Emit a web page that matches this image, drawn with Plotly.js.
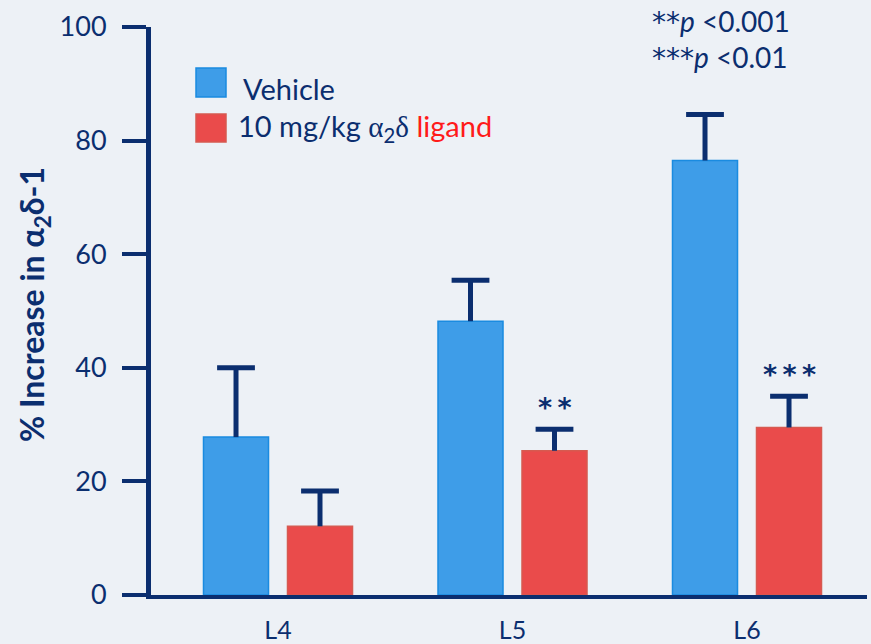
<!DOCTYPE html>
<html>
<head>
<meta charset="utf-8">
<script src="https://cdn.plot.ly/plotly-3.0.1.min.js"></script>
<style>
  html, body { margin: 0; padding: 0; background: #edf1f6; }
  #chart { width: 871px; height: 644px; }
</style>
</head>
<body>
<div id="chart"></div>
<script>
// ---- data ----
const categories = ['L4', 'L5', 'L6'];
const vehicleValues = [27.8, 48.2, 76.5];
const vehicleErrors = [12.2, 7.2, 8.1];
const ligandValues = [12.1, 25.4, 29.5];
const ligandErrors = [6.2, 3.8, 5.5];
const ligandStars = ['', '*\u2009*', '*\u2009*\u2009*'];
const yTicks = [0, 20, 40, 60, 80, 100];
const yTitle = '<b>% Increase in α<sub>2</sub>δ-1</b>';
const legendLabels = [
  'Vehicle',
  '10 mg/kg <span style="font-family:\'Liberation Serif\', serif">α</span><sub>2</sub><span style="font-family:\'Liberation Serif\', serif">δ</span> <span style="color:#ff1a1a">ligand</span>'
];
const STAR_SPAN = s => '<span style="font-family:\'DejaVu Sans\', sans-serif">' + s + '</span>';
const pNotes = [STAR_SPAN('**') + '<i>p</i> <0.001', STAR_SPAN('***') + '<i>p</i> <0.01'];

// ---- style ----
const NAVY = '#0b2e6f';
const BLUE = '#3e9de8';
const BLUE_EDGE = '#1a8be0';
const RED = '#ea4b4b';
const RED_EDGE = '#d65a50';
const FONT = 'Lato, "Open Sans", sans-serif';
const W = 871, H = 644;
const M = { l: 151, r: 4, t: 27, b: 49 };
const plotW = W - M.l - M.r, plotH = H - M.t - M.b;
const px2x = px => (px - M.l) / plotW;
const py2y = py => (H - M.b - py) / plotH;

const BARGAP = 0.2836;
const slotHalf = (1 - BARGAP) / 4;   // half of one bar slot, in category units
const idx = categories.map((c, i) => i);
const zeros = idx.map(() => 0);

const traces = [
  {
    type: 'bar', name: 'Vehicle', x: idx, y: vehicleValues,
    marker: { color: BLUE, line: { color: BLUE_EDGE, width: 1.5 } },
    error_y: { type: 'data', symmetric: false, array: vehicleErrors, arrayminus: zeros,
               color: NAVY, thickness: 5, width: 0 },
    hoverinfo: 'none'
  },
  {
    type: 'bar', name: 'Ligand', x: idx, y: ligandValues,
    marker: { color: RED, line: { color: RED_EDGE, width: 1.5 } },
    error_y: { type: 'data', symmetric: false, array: ligandErrors, arrayminus: zeros,
               color: NAVY, thickness: 5, width: 0 },
    hoverinfo: 'none'
  },
  // error-bar caps (top only)
  {
    type: 'scatter', mode: 'markers', showlegend: false, hoverinfo: 'none',
    x: idx.map(i => i - slotHalf).concat(idx.map(i => i + slotHalf)),
    y: vehicleValues.map((v, i) => v + vehicleErrors[i]).concat(ligandValues.map((v, i) => v + ligandErrors[i])),
    marker: { symbol: 'line-ew', size: 27, color: NAVY, line: { color: NAVY, width: 5 } }
  }
];

const annotations = [];
// stars above ligand bars
idx.forEach(i => {
  if (ligandStars[i]) {
    annotations.push({
      x: i + slotHalf, y: ligandValues[i] + ligandErrors[i], xref: 'x', yref: 'y',
      yshift: 4, yanchor: 'bottom', showarrow: false,
      text: '<b>' + ligandStars[i] + '</b>', font: { family: '"DejaVu Sans", sans-serif', size: 27, color: NAVY }
    });
  }
});
// p-value notes
pNotes.forEach((t, i) => {
  annotations.push({
    x: px2x(650), y: py2y(22 + i * 36), xref: 'paper', yref: 'paper',
    xanchor: 'left', yanchor: 'middle', showarrow: false,
    text: t, font: { family: FONT, size: 28, color: NAVY }
  });
});
// legend text
const legendRows = [89, 127];
legendLabels.forEach((t, i) => {
  annotations.push({
    x: px2x(i === 0 ? 241 : 236), y: py2y(legendRows[i]), xref: 'paper', yref: 'paper',
    xanchor: 'left', yanchor: 'middle', showarrow: false,
    text: t, font: { family: FONT, size: 29, color: NAVY }
  });
});
// y-axis title
annotations.push({
  x: px2x(34), y: py2y(305), xref: 'paper', yref: 'paper',
  xanchor: 'center', yanchor: 'middle', textangle: -90, showarrow: false,
  text: yTitle, font: { family: FONT, size: 32, color: NAVY }
});

const shapes = [
  { type: 'rect', xref: 'paper', yref: 'paper', x0: px2x(196), x1: px2x(226), y0: py2y(97), y1: py2y(68),
    fillcolor: BLUE, line: { color: BLUE_EDGE, width: 1.5 } },
  { type: 'rect', xref: 'paper', yref: 'paper', x0: px2x(196), x1: px2x(226), y0: py2y(142), y1: py2y(114),
    fillcolor: RED, line: { color: RED_EDGE, width: 1.5 } }
];

const layout = {
  width: W, height: H,
  margin: M,
  paper_bgcolor: '#edf1f6', plot_bgcolor: '#edf1f6',
  showlegend: false,
  barmode: 'group', bargap: BARGAP, bargroupgap: 0.226,
  font: { family: FONT, color: NAVY },
  xaxis: {
    range: [-0.5416, 2.5117],
    tickvals: idx, ticktext: categories,
    showline: true, linecolor: NAVY, linewidth: 4,
    ticks: '', showgrid: false, zeroline: false,
    tickfont: { family: FONT, size: 25, color: NAVY },
    ticklabelstandoff: 10
  },
  yaxis: {
    range: [0, 100], tickvals: yTicks, ticktext: yTicks.map(String),
    showline: true, linecolor: NAVY, linewidth: 5,
    ticks: 'outside', ticklen: 24, tickwidth: 4, tickcolor: NAVY,
    showgrid: false, zeroline: false,
    tickfont: { family: FONT, size: 27, color: NAVY },
    ticklabelstandoff: 10
  },
  annotations: annotations,
  shapes: shapes
};

Plotly.newPlot('chart', traces, layout, { staticPlot: true });
</script>
</body>
</html>
